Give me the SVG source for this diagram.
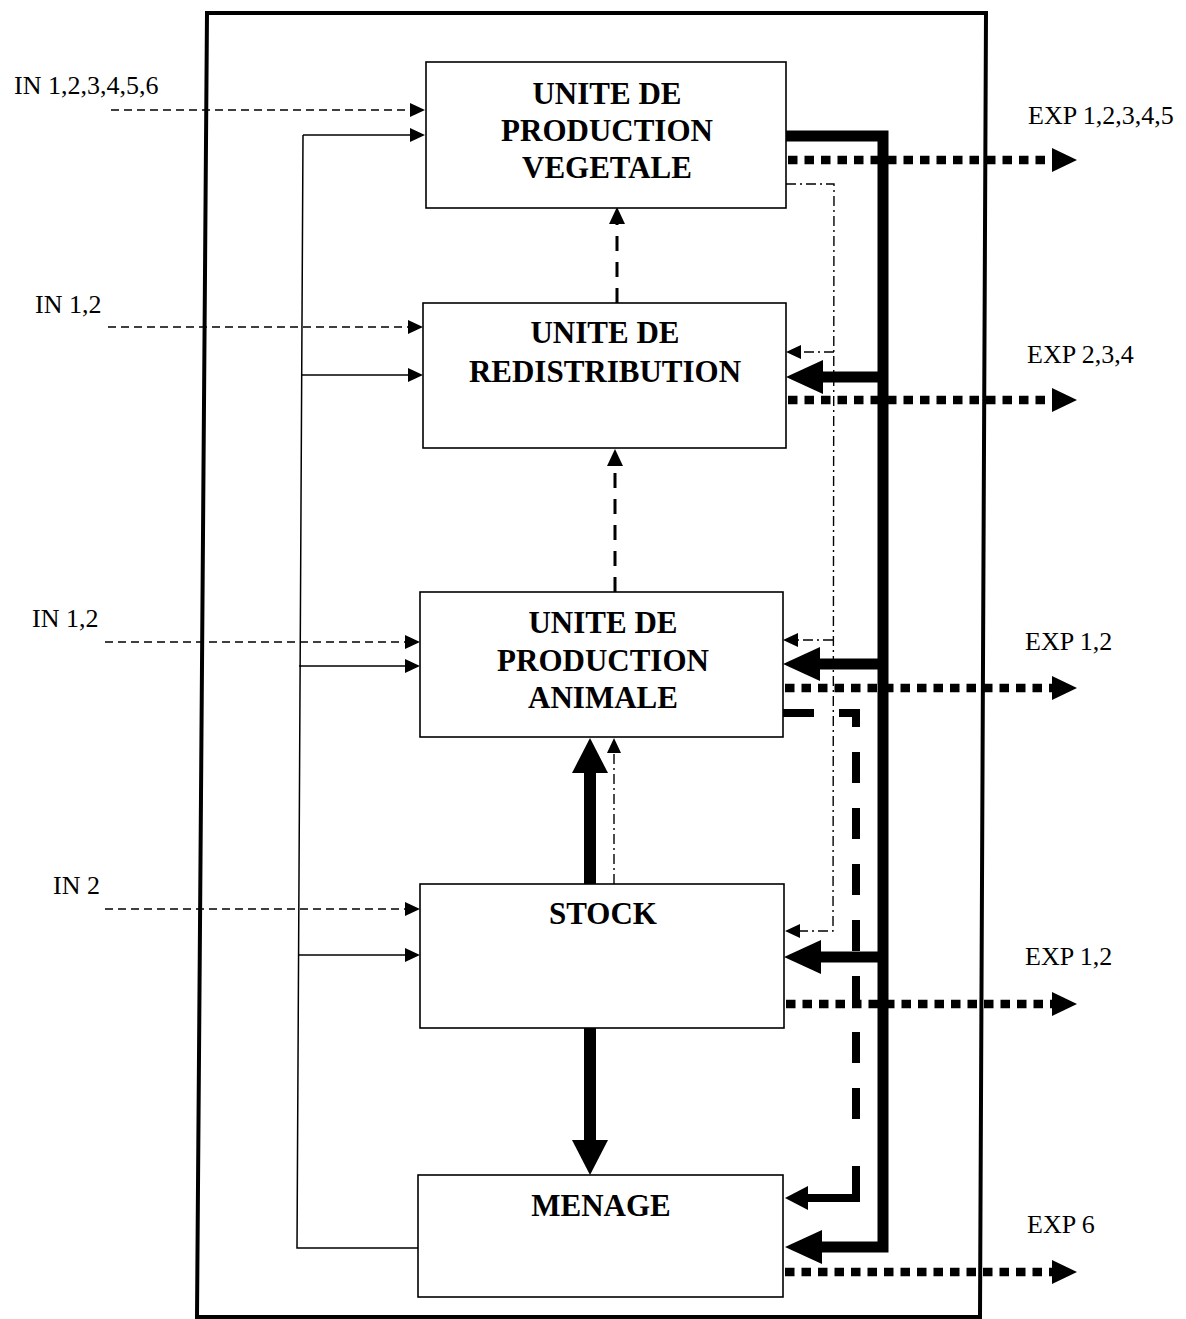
<svg xmlns="http://www.w3.org/2000/svg" width="1186" height="1319" viewBox="0 0 1186 1319">
<style>
.box{fill:#fff;stroke:#000;stroke-width:1.6}
.t{font-family:"Liberation Serif","Times New Roman",serif;font-weight:bold;font-size:31px;text-anchor:middle;fill:#000}
.lbl{font-family:"Liberation Serif","Times New Roman",serif;font-size:26px;fill:#000}
.thin{fill:none;stroke:#000;stroke-width:1.5}
.indash{fill:none;stroke:#000;stroke-width:1.5;stroke-dasharray:8 5}
.dashdot{fill:none;stroke:#000;stroke-width:1.4;stroke-dasharray:10 4 2 4}
.vdash{fill:none;stroke:#000;stroke-width:3;stroke-dasharray:15 11}
.thick{fill:none;stroke:#000;stroke-width:11;stroke-linejoin:miter}
.vthick{fill:none;stroke:#000;stroke-width:12}
.dots{fill:none;stroke:#000;stroke-width:8.5;stroke-dasharray:9.5 7}
.bdash{fill:none;stroke:#000;stroke-width:8;stroke-dasharray:31 25}
.bsolid{fill:none;stroke:#000;stroke-width:8}
</style>
<defs>
<marker id="ahS" markerUnits="userSpaceOnUse" viewBox="0 -7 15 14" markerWidth="15" markerHeight="14" refX="0" refY="0" orient="auto"><path d="M0,-7 L15,0 L0,7 Z" fill="#000"/></marker>
<marker id="ahM" markerUnits="userSpaceOnUse" viewBox="0 -8 17 16" markerWidth="17" markerHeight="16" refX="0" refY="0" orient="auto"><path d="M0,-8 L17,0 L0,8 Z" fill="#000"/></marker>
<marker id="ahB" markerUnits="userSpaceOnUse" viewBox="0 -17 37 34" markerWidth="37" markerHeight="34" refX="0" refY="0" orient="auto"><path d="M0,-17 L37,0 L0,17 Z" fill="#000"/></marker>
<marker id="ahV" markerUnits="userSpaceOnUse" viewBox="0 -18 35 36" markerWidth="35" markerHeight="36" refX="0" refY="0" orient="auto"><path d="M0,-18 L35,0 L0,18 Z" fill="#000"/></marker>
<marker id="ahD" markerUnits="userSpaceOnUse" viewBox="0 -12 25 24" markerWidth="25" markerHeight="24" refX="0" refY="0" orient="auto"><path d="M0,-12 L25,0 L0,12 Z" fill="#000"/></marker>
<marker id="ahK" markerUnits="userSpaceOnUse" viewBox="0 -12 23 24" markerWidth="23" markerHeight="24" refX="0" refY="0" orient="auto"><path d="M0,-12 L23,0 L0,12 Z" fill="#000"/></marker>
</defs>

<path id="frame" d="M207,13 L986,13 L980,1317 L197,1317 Z" fill="none" stroke="#000" stroke-width="4"/>

<g id="connectors">
  <!-- inputs dashed -->
  <path class="indash" d="M111,110 H410" marker-end="url(#ahS)"/>
  <path class="indash" d="M108,327 H408" marker-end="url(#ahS)"/>
  <path class="indash" d="M105,642 H405" marker-end="url(#ahS)"/>
  <path class="indash" d="M105,909 H405" marker-end="url(#ahS)"/>
  <!-- menage feedback trunk -->
  <path class="thin" d="M418,1248 L297,1248 L303,135"/>
  <path class="thin" d="M303,135 H410" marker-end="url(#ahS)"/>
  <path class="thin" d="M302,375 H408" marker-end="url(#ahS)"/>
  <path class="thin" d="M299,666 H405" marker-end="url(#ahS)"/>
  <path class="thin" d="M298,955 H405" marker-end="url(#ahS)"/>
  <!-- central vertical -->
  <path class="vdash" d="M617,303 V224" marker-end="url(#ahM)"/>
  <path class="vdash" d="M615,592 V466" marker-end="url(#ahM)"/>
  <path class="vthick" d="M590,884 V773" marker-end="url(#ahV)"/>
  <path class="dashdot" d="M614,884 V753" marker-end="url(#ahS)"/>
  <path class="vthick" d="M590,1028 V1140" marker-end="url(#ahV)"/>
  <!-- right side dash-dot -->
  <path class="dashdot" d="M786,184 H834 L833,931 H800" marker-end="url(#ahS)"/>
  <path class="dashdot" d="M834,352 H801" marker-end="url(#ahS)"/>
  <path class="dashdot" d="M833,640 H798" marker-end="url(#ahS)"/>
  <!-- thick dashed animale to menage -->
  <path class="bdash" d="M783,713 H856 V1142"/>
  <path class="bsolid" d="M856,1166 V1198 H808" marker-end="url(#ahK)"/>
  <!-- thick solid distribution -->
  <path class="thick" d="M786,136 H883 V1247 H822" marker-end="url(#ahB)"/>
  <path class="thick" d="M883,377 H823" marker-end="url(#ahB)"/>
  <path class="thick" d="M883,664 H820" marker-end="url(#ahB)"/>
  <path class="thick" d="M883,957 H821" marker-end="url(#ahB)"/>
  <!-- exports dotted -->
  <path class="dots" d="M788,160 H1052" marker-end="url(#ahD)"/>
  <path class="dots" d="M788,400 H1052" marker-end="url(#ahD)"/>
  <path class="dots" d="M785,688 H1052" marker-end="url(#ahD)"/>
  <path class="dots" d="M786,1004 H1052" marker-end="url(#ahD)"/>
  <path class="dots" d="M785,1272 H1052" marker-end="url(#ahD)"/>
</g>

<g id="node-vegetale">
  <rect class="box" x="426" y="62" width="360" height="146"/>
  <text class="t" x="607" y="104">UNITE DE</text>
  <text class="t" x="607" y="141">PRODUCTION</text>
  <text class="t" x="607" y="178">VEGETALE</text>
</g>
<g id="node-redistribution">
  <rect class="box" x="423" y="303" width="363" height="145"/>
  <text class="t" x="605" y="343">UNITE DE</text>
  <text class="t" x="605" y="382">REDISTRIBUTION</text>
</g>
<g id="node-animale">
  <rect class="box" x="420" y="592" width="363" height="145"/>
  <text class="t" x="603" y="633">UNITE DE</text>
  <text class="t" x="603" y="671">PRODUCTION</text>
  <text class="t" x="603" y="708">ANIMALE</text>
</g>
<g id="node-stock">
  <rect class="box" x="420" y="884" width="364" height="144"/>
  <text class="t" x="603" y="924">STOCK</text>
</g>
<g id="node-menage">
  <rect class="box" x="418" y="1175" width="365" height="122"/>
  <text class="t" x="601" y="1216">MENAGE</text>
</g>

<g id="labels">
  <text class="lbl" x="14" y="94">IN 1,2,3,4,5,6</text>
  <text class="lbl" x="35" y="313">IN 1,2</text>
  <text class="lbl" x="32" y="627">IN 1,2</text>
  <text class="lbl" x="53" y="894">IN 2</text>
  <text class="lbl" x="1028" y="124">EXP 1,2,3,4,5</text>
  <text class="lbl" x="1027" y="363">EXP 2,3,4</text>
  <text class="lbl" x="1025" y="650">EXP 1,2</text>
  <text class="lbl" x="1025" y="965">EXP 1,2</text>
  <text class="lbl" x="1027" y="1233">EXP 6</text>
</g>
</svg>
